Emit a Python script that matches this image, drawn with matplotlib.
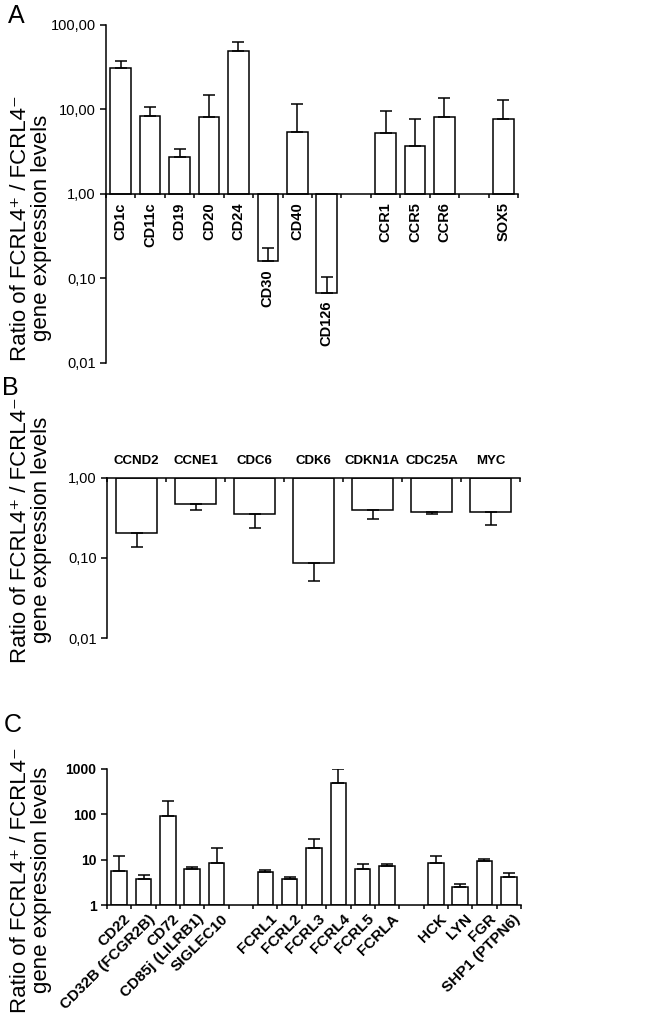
import numpy as np
import matplotlib
matplotlib.use("Agg")
import matplotlib.pyplot as plt
from matplotlib.ticker import FixedLocator, FuncFormatter, NullLocator

plt.rcParams['font.family'] = ['Liberation Sans', 'DejaVu Sans']

# 数据
a_genes = ['CD1c', 'CD11c', 'CD19', 'CD20', 'CD24', 'CD30', 'CD40', 'CD126',
           'CCR1', 'CCR5', 'CCR6', 'SOX5']
a_groups = [8, 3, 1]
a_vals = [31.2, 8.4, 2.72, 8.05, 49.9, 0.161, 5.46, 0.068, 5.22, 3.7, 8.05, 7.77]
a_err_top = [37, 10.6, 3.4, 14.9, 62.5, 0.227, 11.6, 0.103, 9.47, 7.63, 13.7, 13.1]

b_genes = ['CCND2', 'CCNE1', 'CDC6', 'CDK6', 'CDKN1A', 'CDC25A', 'MYC']
b_vals = [0.207, 0.475, 0.356, 0.0867, 0.392, 0.377, 0.377]
b_err_low = [0.138, 0.40, 0.234, 0.0517, 0.306, 0.353, 0.26]

c_genes = ['CD22', 'CD32B (FCGR2B)', 'CD72', 'CD85j (LILRB1)', 'SIGLEC10',
           'FCRL1', 'FCRL2', 'FCRL3', 'FCRL4', 'FCRL5', 'FCRLA',
           'HCK', 'LYN', 'FGR', 'SHP1 (PTPN6)']
c_groups = [5, 6, 4]
c_vals = [5.68, 3.79, 90.4, 6.18, 8.5, 5.22, 3.79, 17.6, 489, 6.18, 7.2, 8.5, 2.53, 9.27, 4.13]
c_err_top = [12.1, 4.56, 196, 6.84, 17.6, 5.78, 4.2, 28.2, 992, 7.96, 8.1, 11.7, 2.85, 10.3, 5.14]

ylab = 'Ratio of FCRL4\u207a / FCRL4\u207b\ngene expression levels'
LW = 1.1


def slots(groups):
    # 组之间空一格
    pos = []
    k = 0
    for g in groups:
        pos += list(range(k, k + g))
        k += g + 1
    return np.array(pos), k - 1


def comma(v, p):
    return ('%.2f' % v).replace('.', ',')


fig = plt.figure(figsize=(6.52, 10.13), dpi=100)
W, H = 652.0, 1013.0


def add_ax(x0, x1, ytop, ybot):
    return fig.add_axes([x0 / W, 1 - ybot / H, (x1 - x0) / W, (ybot - ytop) / H])


# ---------- A ----------
ax = add_ax(106, 518, 25, 363)
xa, na = slots(a_groups)
va = np.array(a_vals)
ax.bar(xa, va - 1, bottom=1, width=0.7, color='white', edgecolor='black', lw=LW, zorder=2)
ax.errorbar(xa, va, yerr=[np.zeros_like(va), np.array(a_err_top) - va], fmt='none',
            ecolor='black', elinewidth=LW, capsize=4, capthick=LW, zorder=3)
ax.set_yscale('log')
ax.set_ylim(0.01, 100)
ax.set_xlim(-0.5, na - 0.5)
ax.yaxis.set_major_locator(FixedLocator([0.01, 0.1, 1, 10, 100]))
ax.yaxis.set_minor_locator(NullLocator())
ax.yaxis.set_major_formatter(FuncFormatter(comma))
ax.set_xticks(np.arange(-0.5, na, 1))
ax.set_xticklabels([])
ax.spines['bottom'].set_position(('data', 1))
for s in ['top', 'right']:
    ax.spines[s].set_visible(False)
for s in ['left', 'bottom']:
    ax.spines[s].set_linewidth(LW)
ax.tick_params(axis='y', labelsize=10.5, length=4, width=LW)
ax.tick_params(axis='x', length=3, width=LW, direction='out')
for x, v, g in zip(xa, va, a_genes):
    ax.annotate(g, xy=(x, min(v, 1)), xytext=(0, -6), textcoords='offset points',
                ha='center', va='top', rotation=90, fontsize=10.5, fontweight='bold')

# ---------- B ----------
ax = add_ax(107, 520, 477.7, 638)
xb = np.arange(len(b_genes))
vb = np.array(b_vals)
ax.bar(xb, vb - 1, bottom=1, width=0.68, color='white', edgecolor='black', lw=LW, zorder=2)
ax.errorbar(xb, vb, yerr=[vb - np.array(b_err_low), np.zeros_like(vb)], fmt='none',
            ecolor='black', elinewidth=LW, capsize=4, capthick=LW, zorder=3)
ax.set_yscale('log')
ax.set_ylim(0.01, 1)
ax.set_xlim(-0.5, len(b_genes) - 0.5)
ax.yaxis.set_major_locator(FixedLocator([0.01, 0.1, 1]))
ax.yaxis.set_minor_locator(NullLocator())
ax.yaxis.set_major_formatter(FuncFormatter(comma))
ax.xaxis.tick_top()
ax.set_xticks(np.arange(-0.5, len(b_genes), 1))
ax.set_xticklabels([])
for s in ['bottom', 'right']:
    ax.spines[s].set_visible(False)
for s in ['left', 'top']:
    ax.spines[s].set_linewidth(LW)
ax.tick_params(axis='y', labelsize=10.5, length=4, width=LW)
ax.tick_params(axis='x', length=3, width=LW, direction='in')
for x, g in zip(xb, b_genes):
    ax.annotate(g, xy=(x, 1), xytext=(0, 8), textcoords='offset points',
                ha='center', va='bottom', fontsize=9.5, fontweight='bold')

# ---------- C ----------
ax = add_ax(107, 521, 768.7, 905)
xc, nc = slots(c_groups)
vc = np.array(c_vals)
ax.bar(xc, vc - 1, bottom=1, width=0.64, color='white', edgecolor='black', lw=LW, zorder=2)
ax.errorbar(xc, vc, yerr=[np.zeros_like(vc), np.array(c_err_top) - vc], fmt='none',
            ecolor='black', elinewidth=LW, capsize=4, capthick=LW, zorder=3)
ax.set_yscale('log')
ax.set_ylim(1, 1000)
ax.set_xlim(-0.5, nc - 0.5)
ax.yaxis.set_major_locator(FixedLocator([1, 10, 100, 1000]))
ax.yaxis.set_minor_locator(NullLocator())
ax.yaxis.set_major_formatter(FuncFormatter(lambda v, p: '%d' % v))
ax.set_xticks(np.arange(-0.5, nc, 1))
ax.set_xticklabels([])
for s in ['top', 'right']:
    ax.spines[s].set_visible(False)
for s in ['left', 'bottom']:
    ax.spines[s].set_linewidth(LW)
ax.tick_params(axis='y', labelsize=10, length=4, width=LW)
for t in ax.get_yticklabels():
    t.set_fontweight('bold')
ax.tick_params(axis='x', length=3, width=LW, direction='out')
for x, g in zip(xc, c_genes):
    ax.annotate(g, xy=(x, 1), xytext=(3, -5), textcoords='offset points',
                ha='right', va='top', rotation=45, rotation_mode='anchor',
                fontsize=11, fontweight='bold')

# 纵轴标题和面板字母
for yc in [228, 530, 880]:
    fig.text(31 / W, 1 - yc / H, ylab, rotation=90, ha='center', va='center',
             fontsize=16, linespacing=0.95, multialignment='center')
for letter, (x, y) in zip('ABC', [(8, 4), (2, 376), (4, 713)]):
    fig.text(x / W, 1 - y / H, letter, ha='left', va='top', fontsize=18)

fig.savefig('out.png', dpi=100)
